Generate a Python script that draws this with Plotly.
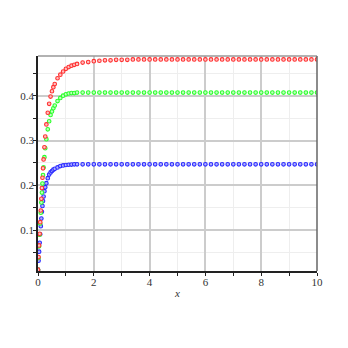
import plotly.graph_objects as go

# sample positions (shared by all three curves)
x_vals = [0.0, 0.02, 0.04, 0.06, 0.08, 0.1, 0.12, 0.14, 0.16, 0.18, 0.2, 0.23, 0.26, 0.3,
          0.35, 0.4, 0.45, 0.5, 0.55, 0.6, 0.7, 0.8, 0.9, 1.0, 1.1, 1.2, 1.3, 1.4, 1.6, 1.8,
          2.0, 2.2, 2.4, 2.6, 2.8, 3.0, 3.2, 3.4, 3.6, 3.8, 4.0, 4.2, 4.4, 4.6, 4.8, 5.0,
          5.2, 5.4, 5.6, 5.8, 6.0, 6.2, 6.4, 6.6, 6.8, 7.0, 7.2, 7.4, 7.6, 7.8, 8.0, 8.2,
          8.4, 8.6, 8.8, 9.0, 9.2, 9.4, 9.6, 9.8, 10.0]

red_vals = [0.012, 0.040, 0.066, 0.092, 0.118, 0.144, 0.170, 0.194, 0.217, 0.238, 0.258,
            0.285, 0.309, 0.336, 0.362, 0.382, 0.398, 0.410, 0.419, 0.426, 0.439, 0.447,
            0.454, 0.460, 0.464, 0.467, 0.469, 0.471, 0.474, 0.475, 0.477, 0.478, 0.479,
            0.479, 0.480, 0.480, 0.480, 0.481, 0.481, 0.481, 0.481, 0.481, 0.481, 0.481,
            0.481, 0.481, 0.481, 0.481, 0.481, 0.481, 0.481, 0.481, 0.481, 0.481, 0.481,
            0.481, 0.481, 0.481, 0.481, 0.481, 0.481, 0.481, 0.481, 0.481, 0.481, 0.481,
            0.481, 0.481, 0.481, 0.481, 0.481]

green_vals = [0.012, 0.038, 0.064, 0.090, 0.115, 0.139, 0.162, 0.184, 0.204, 0.223, 0.240,
              0.263, 0.283, 0.303, 0.325, 0.343, 0.357, 0.365, 0.372, 0.378, 0.388, 0.395,
              0.400, 0.403, 0.405, 0.406, 0.406, 0.407, 0.407, 0.407, 0.407, 0.407, 0.407,
              0.407, 0.407, 0.407, 0.407, 0.407, 0.407, 0.407, 0.407, 0.407, 0.407, 0.407,
              0.407, 0.407, 0.407, 0.407, 0.407, 0.407, 0.407, 0.407, 0.407, 0.407, 0.407,
              0.407, 0.407, 0.407, 0.407, 0.407, 0.407, 0.407, 0.407, 0.407, 0.407, 0.407,
              0.407, 0.407, 0.407, 0.407, 0.407]

blue_vals = [0.012, 0.032, 0.052, 0.072, 0.091, 0.109, 0.126, 0.141, 0.154, 0.165, 0.175,
             0.187, 0.196, 0.205, 0.216, 0.224, 0.229, 0.232, 0.235, 0.237, 0.240, 0.243,
             0.2445, 0.2455, 0.246, 0.2465, 0.247, 0.247, 0.247, 0.247, 0.247, 0.247, 0.247,
             0.247, 0.247, 0.247, 0.247, 0.247, 0.247, 0.247, 0.247, 0.247, 0.247, 0.247,
             0.247, 0.247, 0.247, 0.247, 0.247, 0.247, 0.247, 0.247, 0.247, 0.247, 0.247,
             0.247, 0.247, 0.247, 0.247, 0.247, 0.247, 0.247, 0.247, 0.247, 0.247, 0.247,
             0.247, 0.247, 0.247, 0.247, 0.247]

x_ticks = [0, 2, 4, 6, 8, 10]
y_ticks = [0.1, 0.2, 0.3, 0.4]
y_labels = ["0.1", "0.2", "0.3", "0.4"]

fig = go.Figure()

series = [
    (blue_vals, "#2a2aff", "#b0b0ff"),
    (green_vals, "#2aff2a", "#c0ffc0"),
    (red_vals, "#ff3030", "#ffc0c0"),
]
for yv, col, fill in series:
    fig.add_scatter(
        x=x_vals, y=yv, mode="markers",
        marker=dict(symbol="circle", size=3.6, color=fill, line=dict(width=1.1, color=col)),
        showlegend=False,
    )

# page body adds an 8px offset, so margins are shifted by that amount
fig.update_layout(
    width=348, height=348,
    margin=dict(l=30, r=39, t=48, b=85),
    paper_bgcolor="white", plot_bgcolor="white",
    font=dict(family="Liberation Serif, Times New Roman, serif", size=11, color="#333"),
    shapes=[
        dict(type="line", xref="paper", yref="paper", x0=0, x1=1, y0=1, y1=1,
             line=dict(color="#999", width=1.5)),
        dict(type="line", xref="paper", yref="paper", x0=1, x1=1, y0=0, y1=1,
             line=dict(color="#666", width=1.5)),
    ],
)

fig.update_xaxes(
    range=[0, 10], tickvals=x_ticks, ticks="",
    showgrid=True, gridcolor="#cccccc", gridwidth=1.5,
    showline=True, linecolor="#222", linewidth=1.5,
    zeroline=False,
    minor=dict(dtick=1, tick0=0, showgrid=True, gridcolor="#eeeeee", gridwidth=1,
               ticks="outside", ticklen=3, tickcolor="#222"),
    title=dict(text="<i>x</i>", standoff=2, font=dict(size=11)),
)

fig.update_yaxes(
    range=[0.009, 0.4886], tickvals=y_ticks, ticktext=y_labels, ticks="",
    showgrid=True, gridcolor="#cccccc", gridwidth=1.5,
    showline=True, linecolor="#222", linewidth=1.5,
    zeroline=False, automargin=False,
    minor=dict(dtick=0.05, tick0=0, showgrid=True, gridcolor="#eeeeee", gridwidth=1,
               ticks="outside", ticklen=3, tickcolor="#222"),
)

fig.write_html("out.html")
